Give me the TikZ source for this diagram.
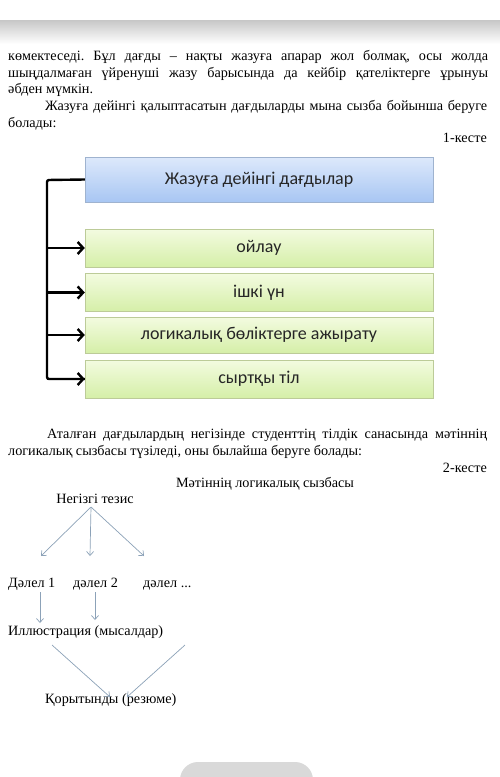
\documentclass[tikz,border=0pt]{standalone}
\usepackage{fontspec}
\setmainfont{Liberation Serif}
\newfontfamily\boxfont{Carlito}
\usetikzlibrary{arrows.meta}
\frenchspacing

\definecolor{bluetop}{HTML}{DDE9FB}
\definecolor{bluebot}{HTML}{A8C6F3}
\definecolor{blueline}{HTML}{9FB3CF}
\definecolor{greentop}{HTML}{F3FBE0}
\definecolor{greenbot}{HTML}{D5EFA8}
\definecolor{greenline}{HTML}{BCCB98}
\definecolor{schemearrow}{HTML}{8CA2B8}

\tikzset{
  line/.style={inner sep=0pt, anchor=base west},
  headbox/.style={draw=blueline, top color=bluetop, bottom color=bluebot,
    minimum width=348pt, minimum height=45pt, text=black!85,
    font=\boxfont\fontsize{18}{20}\selectfont},
  skillbox/.style={draw=greenline, top color=greentop, bottom color=greenbot,
    minimum width=348pt, minimum height=38pt, text=black!85,
    font=\boxfont\fontsize{18}{20}\selectfont},
  bracket/.style={line width=2.4pt, rounded corners=2pt},
  toskill/.style={line width=2.4pt, -{Straight Barb[length=5.5pt,width=12pt]}},
  scheme/.style={inner sep=0pt, anchor=base west},
  schemeto/.style={draw=schemearrow, line width=0.7pt, -{Straight Barb[length=4pt,width=7pt]}}
}

\begin{document}
\begin{tikzpicture}[x=1pt, y={(0pt,-1pt)}, font=\fontsize{14.2}{17}\selectfont]
  \useasboundingbox (0,0) rectangle (500,777);
  \fill[white] (0,0) rectangle (500,777);
  \shade[top color=black!22, bottom color=white] (0,20) rectangle (500,44);

  % text above the first table
  \node[line] (l1) at (8,60) {\makebox[480pt][s]{көмектеседі. Бұл дағды – нақты жазуға апарар жол болмақ, осы жолда}};
  \node[line] (l2) at (8,77) {\makebox[480pt][s]{шыңдалмаған үйренуші жазу барысында да кейбір қателіктерге ұрынуы}};
  \node[line] (l3) at (8,93) {әбден мүмкін.};
  \node[line] (l4) at (45,110) {\makebox[442pt][s]{Жазуға дейінгі қалыптасатын дағдыларды мына сызба бойынша беруге}};
  \node[line] (l5) at (8,127) {болады:};
  \node[inner sep=0pt, anchor=base east] (tab1) at (487,142) {1-кесте};

  % table 1
  \node[headbox] (skills) at (259,179.5) {Жазуға дейінгі дағдылар};
  \node[skillbox] (think) at (259,248) {ойлау};
  \node[skillbox] (voice) at (259,292.5) {ішкі үн};
  \node[skillbox, minimum height=36pt] (parts) at (259,335) {логикалық бөліктерге ажырату};
  \node[skillbox] (speech) at (259,379) {сыртқы тіл};

  \coordinate (spine) at (47,180);
  \draw[bracket] (skills.west) -- (spine) |- (speech.west);
  \foreach \s in {think, voice, parts, speech}
    \draw[toskill] (spine |- \s.west) -- (\s.west);

  % text above the second table
  \node[line] (l6) at (47,438) {\makebox[440pt][s]{Аталған дағдылардың негізінде студенттің тілдік санасында мәтіннің}};
  \node[line] (l7) at (8,455) {логикалық сызбасы түзіледі, оны былайша беруге болады:};
  \node[inner sep=0pt, anchor=base east] (tab2) at (487,472) {2-кесте};
  \node[inner sep=0pt, anchor=base] (title) at (265,487) {Мәтіннің логикалық сызбасы};

  % table 2
  \node[inner sep=0pt, anchor=base] (thesis) at (95,503) {Негізгі тезис};
  \node[scheme] (arg1) at (8,587) {Дәлел 1};
  \node[scheme] (arg2) at (73,587) {дәлел 2};
  \node[scheme] (argn) at (143,587) {дәлел ...};
  \node[scheme] (illus) at (8,635) {Иллюстрация (мысалдар)};
  \node[scheme] (sum) at (45,703) {Қорытынды (резюме)};

  \coordinate (apex) at (91,507);
  \coordinate (t1) at (41,556);
  \coordinate (t2) at (90,556);
  \coordinate (t3) at (144,556);
  \draw[schemeto] (apex) -- (t1);
  \draw[schemeto] (apex) -- (t2);
  \draw[schemeto] (apex) -- (t3);

  \coordinate (d1) at (40,592);
  \coordinate (d2) at (95,592);
  \draw[schemeto] (d1) -- ++(0,31);
  \draw[schemeto] (d2) -- ++(0,28);

  \coordinate (c1) at (52,645);
  \coordinate (c2) at (185,645);
  \draw[schemeto] (c1) -- (110,697);
  \draw[schemeto] (c2) -- (127,697);

  % screen element at the bottom
  \fill[black!15, rounded corners=18pt] (180,762) rectangle (313,800);
\end{tikzpicture}
\end{document}
